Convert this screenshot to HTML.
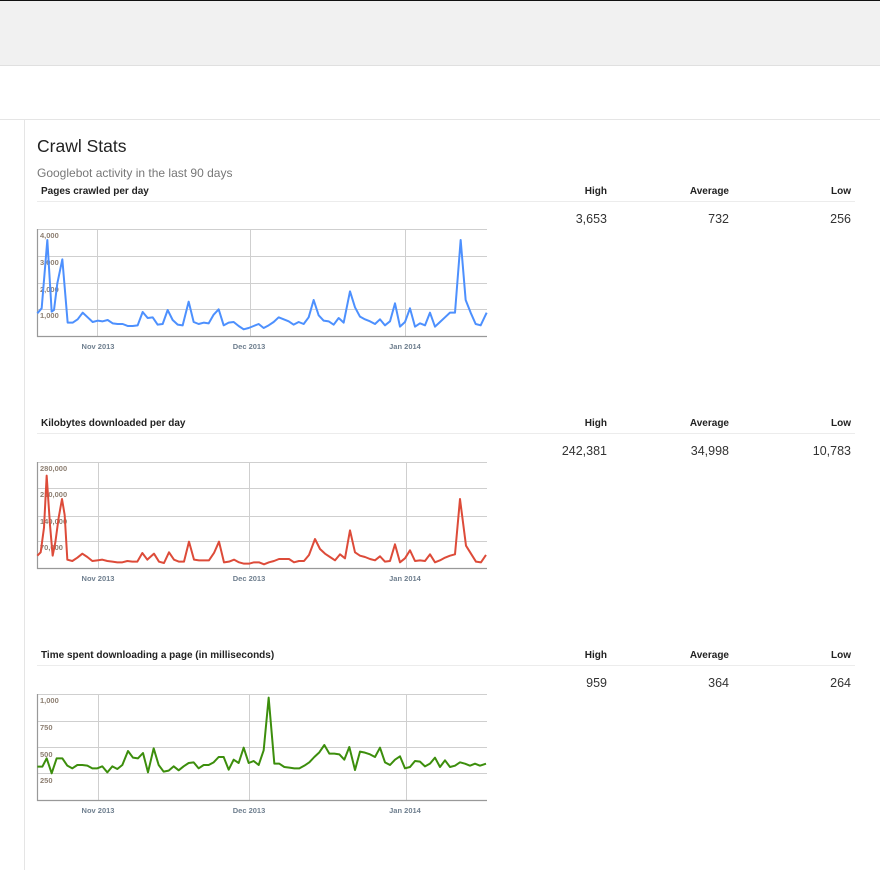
<!DOCTYPE html>
<html><head><meta charset="utf-8"><style>
*{margin:0;padding:0}
body{width:880px;height:870px;position:relative;background:#fff;font-family:"Liberation Sans",Arial,sans-serif;overflow:hidden}
.t{position:absolute;white-space:nowrap}
.h{font-size:10px;font-weight:bold;color:#222}
.r{text-align:right}
.v{font-size:12.5px;color:#333}
.rule{position:absolute;left:37px;width:818px;height:1px;background:#ececec}
</style></head><body>
<div style="position:absolute;left:0;top:0;width:880px;height:1px;background:#111"></div>
<div style="position:absolute;left:0;top:1px;width:880px;height:64px;background:#f1f1f1;border-bottom:1px solid #e0e0e0"></div>
<div style="position:absolute;left:0;top:119px;width:880px;height:1px;background:#e5e5e5"></div>
<div style="position:absolute;left:24px;top:119px;width:1px;height:751px;background:#e5e5e5"></div>

<div class="t" style="left:37px;top:136px;font-size:17.5px;color:#222">Crawl Stats</div>
<div class="t" style="left:37px;top:166px;font-size:12px;color:#777">Googlebot activity in the last 90 days</div>

<div class="t h" style="left:41px;top:186px">Pages crawled per day</div>
<div class="t h r" style="left:507px;width:100px;top:186px">High</div>
<div class="t h r" style="left:629px;width:100px;top:186px">Average</div>
<div class="t h r" style="left:751px;width:100px;top:186px">Low</div>
<div class="rule" style="top:201px"></div>
<div class="t v r" style="left:507px;width:100px;top:212px">3,653</div>
<div class="t v r" style="left:629px;width:100px;top:212px">732</div>
<div class="t v r" style="left:751px;width:100px;top:212px">256</div>

<div class="t h" style="left:41px;top:418px">Kilobytes downloaded per day</div>
<div class="t h r" style="left:507px;width:100px;top:418px">High</div>
<div class="t h r" style="left:629px;width:100px;top:418px">Average</div>
<div class="t h r" style="left:751px;width:100px;top:418px">Low</div>
<div class="rule" style="top:433px"></div>
<div class="t v r" style="left:507px;width:100px;top:444px">242,381</div>
<div class="t v r" style="left:629px;width:100px;top:444px">34,998</div>
<div class="t v r" style="left:751px;width:100px;top:444px">10,783</div>

<div class="t h" style="left:41px;top:650px">Time spent downloading a page (in milliseconds)</div>
<div class="t h r" style="left:507px;width:100px;top:650px">High</div>
<div class="t h r" style="left:629px;width:100px;top:650px">Average</div>
<div class="t h r" style="left:751px;width:100px;top:650px">Low</div>
<div class="rule" style="top:665px"></div>
<div class="t v r" style="left:507px;width:100px;top:676px">959</div>
<div class="t v r" style="left:629px;width:100px;top:676px">364</div>
<div class="t v r" style="left:751px;width:100px;top:676px">264</div>

<svg width="880" height="870" style="position:absolute;left:0;top:0" font-family="Liberation Sans, Arial, sans-serif">
<g stroke="#cfcfcf" stroke-width="1" fill="none">
<path d="M37.5 229.5H487M37.5 256.5H487M37.5 283.5H487M37.5 309.5H487M97.5 229V336M250.5 229V336M405.5 229V336"/>
<path d="M37.5 462.5H487M37.5 488.5H487M37.5 516.5H487M37.5 541.5H487M98.5 462V568M249.5 462V568M406.5 462V568"/>
<path d="M37.5 694.5H487M37.5 721.5H487M37.5 747.5H487M37.5 773.5H487M98.5 694V800M249.5 694V800M406.5 694V800"/>
</g>
<g stroke="#999" stroke-width="1.2" fill="none">
<path d="M37.5 229V336.5H487"/><path d="M37.5 462V568.5H487"/><path d="M37.5 694V800.5H487"/>
</g>
<g font-size="7.5" font-weight="bold" fill="#8d7f72">
<text x="40" y="238">4,000</text><text x="40" y="265">3,000</text><text x="40" y="292">2,000</text><text x="40" y="318">1,000</text>
<text x="40" y="471">280,000</text><text x="40" y="497">210,000</text><text x="40" y="524">140,000</text><text x="40" y="550">70,000</text>
<text x="40" y="703">1,000</text><text x="40" y="730">750</text><text x="40" y="757">500</text><text x="40" y="783">250</text>
</g>
<g font-size="7.5" font-weight="bold" fill="#6f7f8f" text-anchor="middle">
<text x="98" y="349">Nov 2013</text><text x="249" y="349">Dec 2013</text><text x="405" y="349">Jan 2014</text>
<text x="98" y="581">Nov 2013</text><text x="249" y="581">Dec 2013</text><text x="405" y="581">Jan 2014</text>
<text x="98" y="813">Nov 2013</text><text x="249" y="813">Dec 2013</text><text x="405" y="813">Jan 2014</text>
</g>
<g transform="translate(0,120) scale(0.33333)" fill="none" stroke="#4d90fe" stroke-width="6" stroke-linejoin="round">
<polyline points="112,580 125,565 142,360 155,575 162,570 172,490 187,418 203,608 218,608 233,598 248,578 263,592 278,606 293,602 308,604 323,600 338,610 353,612 368,612 383,618 398,618 413,616 428,576 443,594 458,592 473,614 488,612 503,570 518,600 533,614 548,616 566,545 581,606 596,612 611,608 626,610 641,584 656,568 671,616 686,608 701,606 716,618 731,628 746,624 761,618 776,612 791,624 806,616 821,606 836,592 851,598 866,604 881,614 896,606 911,612 926,592 941,540 956,586 971,602 986,604 1001,614 1016,594 1031,608 1050,514 1065,562 1080,590 1095,598 1110,604 1125,612 1140,598 1155,616 1170,604 1185,550 1200,620 1215,606 1230,565 1245,620 1260,610 1275,616 1290,578 1305,620 1320,606 1335,592 1350,578 1365,578 1382,360 1397,540 1412,578 1427,612 1442,616 1460,578"/>
</g>
<g transform="translate(30,455) scale(0.33333)" fill="none" stroke="#dd4b39" stroke-width="6" stroke-linejoin="round">
<polyline points="22,302 32,292 42,218 50,62 60,210 68,302 76,262 86,188 96,132 104,180 112,314 127,318 142,308 157,296 172,306 187,318 202,316 217,314 232,318 247,320 262,322 277,322 292,318 307,320 322,320 337,294 352,314 372,296 387,320 402,324 417,292 432,314 447,320 462,320 477,260 492,314 507,316 522,316 537,316 552,294 567,260 582,322 597,320 612,314 627,322 642,326 657,326 672,322 687,322 702,328 717,322 732,318 747,312 762,312 777,312 792,322 807,318 822,318 837,300 855,252 870,282 885,296 900,306 915,316 930,298 945,310 960,226 975,292 990,302 1005,306 1020,312 1035,316 1050,304 1065,320 1080,318 1095,268 1110,322 1125,310 1140,286 1155,318 1170,316 1185,318 1200,298 1215,322 1230,316 1245,308 1260,302 1275,298 1290,132 1308,272 1323,296 1338,320 1353,322 1368,300"/>
</g>
<g transform="translate(30,685) scale(0.33333)" fill="none" stroke="#3c8e0c" stroke-width="6" stroke-linejoin="round">
<polyline points="22,245 37,245 50,220 65,265 80,220 97,220 112,242 127,250 142,240 157,240 172,242 187,250 202,250 217,244 232,262 247,244 262,252 277,240 294,198 309,218 324,220 339,204 354,262 371,190 386,240 401,260 416,257 431,244 446,256 461,244 476,234 491,232 506,250 521,240 536,240 551,232 566,216 581,216 596,254 611,224 626,234 641,188 656,234 671,228 686,240 701,196 716,38 733,236 748,236 763,246 778,248 793,250 808,250 823,242 838,232 853,216 868,202 883,180 898,206 913,206 928,208 943,224 958,186 975,255 990,200 1005,203 1020,208 1035,216 1050,188 1065,232 1080,240 1095,224 1110,214 1125,250 1140,246 1155,228 1170,230 1185,244 1200,236 1215,218 1230,246 1245,226 1260,246 1275,242 1290,232 1305,236 1320,242 1335,236 1350,242 1368,236"/>
</g>
</svg>
</body></html>
